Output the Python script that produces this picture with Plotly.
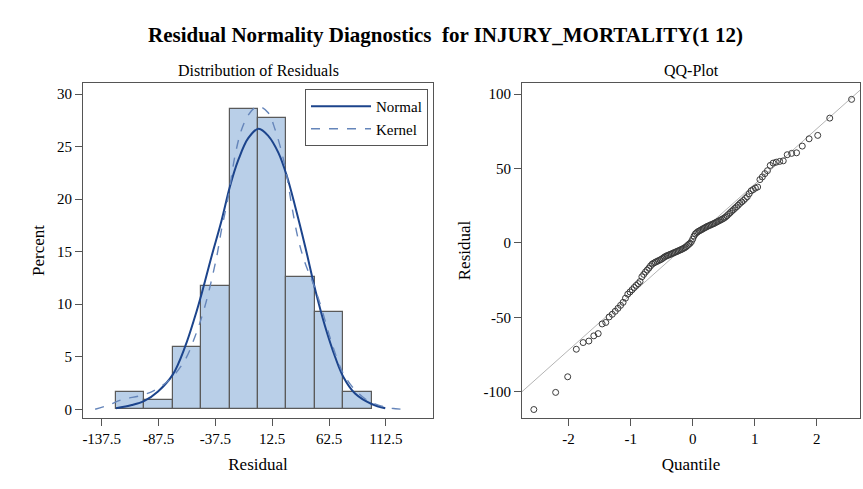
import plotly.graph_objects as go
from statistics import NormalDist

# ---------------- data ----------------
bin_centers = [-112.5, -87.5, -62.5, -37.5, -12.5, 12.5, 37.5, 62.5, 87.5]
bin_percent = [1.68, 0.84, 5.88, 11.76, 28.57, 27.73, 12.61, 9.24, 1.68]
bin_width = 25

normal_x = [-125, -111, -100, -88, -75, -64, -55.5, -49.6, -41, -32, -24.7, -17.4,
            -8.6, 0.5, 9.2, 18, 25.4, 32.7, 41.5, 50.3, 59, 67.8, 75, 85.4, 100, 112]
normal_y = [0.1, 0.4, 0.8, 1.7, 3.3, 6.0, 8.8, 11.0, 14.5, 18.0, 21.2, 23.7,
            25.8, 26.7, 26.0, 24.4, 22.2, 19.3, 15.5, 11.4, 7.9, 5.0, 3.1, 1.5, 0.5, 0.1]

kernel_x = [-143.3, -131.6, -120, -100, -88, -76, -64.2, -55.5, -46.7, -36.4, -32.1,
            -26.2, -20.3, -14.5, -8.6, -2.7, 1.8, 9.2, 15.1, 21, 25.4, 29.8, 35.6,
            41.5, 47.4, 51.8, 56.2, 64.9, 73.7, 82.5, 94.2, 105.9, 117.7, 127.9]
kernel_y = [0.0, 0.4, 0.9, 1.4, 2.0, 3.0, 4.7, 6.9, 9.8, 14.5, 17.1,
            20.2, 24.1, 26.6, 28.0, 28.7, 28.8, 28.2, 26.6, 24.4, 22.2, 19.3, 16.1,
            13.9, 12.3, 11.0, 9.5, 6.3, 3.7, 2.2, 1.0, 0.4, 0.1, 0.0]

residuals = [
    -112, -100.5, -90, -71.5, -67, -66, -62.5, -61, -54.5, -53.5,
    -49.8, -48, -46, -44, -42, -40, -37.2, -34.5, -33, -31.5, -30, -28.6, -27.4, -26,
    -22.8, -21.2, -19.6, -18.3, -17, -15.5, -14.3, -13.6, -13, -12.5, -12, -11.5, -11,
    -10.3, -9.6, -9, -8.6, -8.2, -7.8, -7.4, -7, -6.6, -6.2, -5.8, -5.4, -5, -4.6, -4.2,
    -3.7, -3.2, -2.6, -1.8, -1.0, -0.3,
    0.8, 2.5, 4.5, 6, 6.8, 7.5, 8, 8.5, 9, 9.5, 10, 10.5, 11, 11.4, 11.8, 12.2, 12.6, 13,
    13.5, 14, 14.5, 15, 15.5, 16, 16.6, 17.3, 18.2, 19.2, 20.2, 21.2, 22.2, 23.2, 24.2,
    25.3, 26.5, 27.5, 28.5, 29.8, 31, 33, 35, 35.8, 36.8, 37.5, 42.5, 44.3, 46.5, 48.5,
    52, 53.6, 54.2, 54.7, 55.1, 59.2, 60.1, 60.5, 65, 69.9, 72.2,
    83.8, 96.4]

ref_mean = 2.3
ref_sd = 37.2

hist_ticks = [-137.5, -87.5, -37.5, 12.5, 62.5, 112.5]
hist_yticks = [0, 5, 10, 15, 20, 25, 30]
qq_xticks = [-2, -1, 0, 1, 2]
qq_yticks = [-100, -50, 0, 50, 100]

# ---------------- derived ----------------
n = len(residuals)
res_sorted = sorted(residuals)
nd = NormalDist()
quantiles = [nd.inv_cdf((i + 1 - 0.375) / (n + 0.25)) for i in range(n)]

hist_xrange = [-154, 154]
hist_yrange = [-0.83, 31.05]
qq_xrange = [-2.75, 2.695]
qq_yrange = [-117.7, 107.4]
line_x = qq_xrange
line_y = [ref_mean + ref_sd * q for q in line_x]


def lab(v):
    return ("%g" % v).replace("\u2212", "-")


FONT = "Liberation Serif"
W, H = 863, 489

fig = go.Figure()

fig.add_trace(go.Bar(
    x=bin_centers, y=bin_percent, width=bin_width,
    marker=dict(color="#b9cfe8", line=dict(color="#5a5a5a", width=1.2)),
    showlegend=False, xaxis="x", yaxis="y", hoverinfo="x+y"))

fig.add_trace(go.Scatter(
    x=normal_x, y=normal_y, mode="lines", name="Normal",
    line=dict(color="#1c448c", width=2, shape="spline"),
    xaxis="x", yaxis="y"))

fig.add_trace(go.Scatter(
    x=kernel_x, y=kernel_y, mode="lines", name="Kernel",
    line=dict(color="#6585ba", width=1.4, dash="dash", shape="spline"),
    xaxis="x", yaxis="y"))

fig.add_trace(go.Scatter(
    x=line_x, y=line_y, mode="lines", showlegend=False,
    line=dict(color="#b4b4b4", width=1), xaxis="x2", yaxis="y2"))

fig.add_trace(go.Scatter(
    x=quantiles, y=res_sorted, mode="markers", showlegend=False,
    marker=dict(symbol="circle-open", size=6, color="#3a3a3a", line=dict(width=1)),
    xaxis="x2", yaxis="y2"))

axis_common = dict(
    showline=True, linecolor="#555555", linewidth=1, mirror=True,
    ticks="outside", ticklen=7, tickcolor="#555555", tickwidth=1,
    showgrid=False, zeroline=False,
    tickfont=dict(family=FONT, size=15, color="#000000"),
    title_font=dict(family=FONT, size=17, color="#000000"),
)

y_top = 1 - 83 / H
y_bot = 1 - 418 / H

fig.update_layout(
    width=W, height=H,
    margin=dict(l=0, r=0, t=0, b=0),
    paper_bgcolor="white", plot_bgcolor="white",
    bargap=0,
    font=dict(family=FONT, color="#000000"),
    xaxis=dict(axis_common, domain=[83 / W, 433 / W], range=hist_xrange,
               tickvals=hist_ticks, ticktext=[lab(t) for t in hist_ticks],
               title=dict(text="Residual", standoff=12), anchor="y"),
    yaxis=dict(axis_common, domain=[y_bot, y_top], range=hist_yrange,
               tickvals=hist_yticks, ticktext=[lab(t) for t in hist_yticks],
               title=dict(text="Percent", standoff=8), anchor="x"),
    xaxis2=dict(axis_common, domain=[522 / W, 860 / W], range=qq_xrange,
                tickvals=qq_xticks, ticktext=[lab(t) for t in qq_xticks],
                title=dict(text="Quantile", standoff=12), anchor="y2"),
    yaxis2=dict(axis_common, domain=[y_bot, y_top], range=qq_yrange,
                tickvals=qq_yticks, ticktext=[lab(t) for t in qq_yticks],
                title=dict(text="Residual", standoff=8), anchor="x2"),
    legend=dict(x=428 / W, y=1 - 89 / H, xanchor="right", yanchor="top",
                bgcolor="white", bordercolor="#555555", borderwidth=1,
                font=dict(family=FONT, size=15, color="#000000"),
                itemwidth=60, tracegroupgap=0),
    annotations=[
        dict(text="<b>Residual Normality Diagnostics  for INJURY_MORTALITY(1 12)</b>",
             x=445.5 / W, y=1 - 35 / H, xref="paper", yref="paper",
             xanchor="center", yanchor="middle", showarrow=False,
             font=dict(family=FONT, size=21, color="#000000")),
        dict(text="Distribution of Residuals", x=258 / W, y=1 - 71 / H,
             xref="paper", yref="paper", xanchor="center", yanchor="middle",
             showarrow=False, font=dict(family=FONT, size=16, color="#000000")),
        dict(text="QQ-Plot", x=691 / W, y=1 - 71 / H,
             xref="paper", yref="paper", xanchor="center", yanchor="middle",
             showarrow=False, font=dict(family=FONT, size=16, color="#000000")),
    ],
)

fig.write_html("out.html")
